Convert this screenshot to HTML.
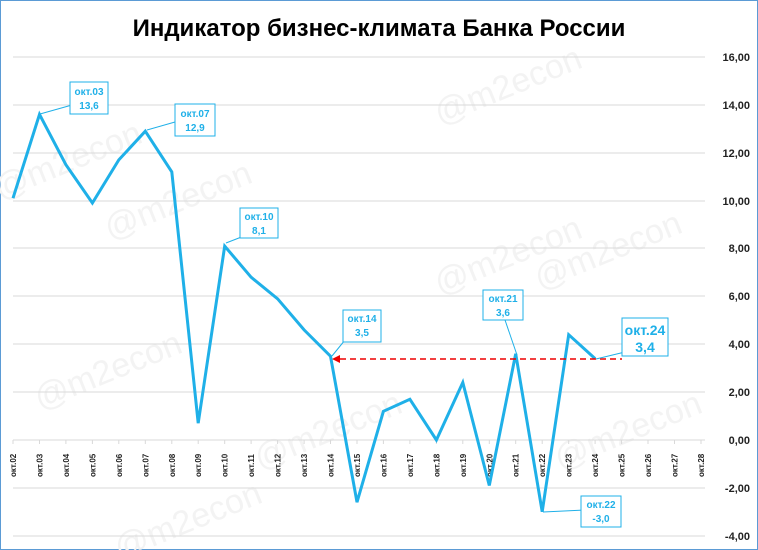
<!DOCTYPE html>
<html><head><meta charset="utf-8"><style>
body{margin:0;background:#fff}
svg{display:block;font-family:"Liberation Sans","DejaVu Sans",sans-serif}
</style></head><body>
<svg width="758" height="550" viewBox="0 0 758 550">
<rect x="0.5" y="0.5" width="757" height="549" fill="#fff" stroke="#5b9bd5" stroke-width="1"/>
<text x="379" y="36" text-anchor="middle" font-size="24" font-weight="bold" fill="#000">Индикатор бизнес-климата Банка России</text>
<g font-size="34" fill="#f3f3f3">
<text transform="translate(110,240) rotate(-22)">@m2econ</text>
<text transform="translate(440,125) rotate(-22)">@m2econ</text>
<text transform="translate(440,295) rotate(-22)">@m2econ</text>
<text transform="translate(540,290) rotate(-22)">@m2econ</text>
<text transform="translate(40,410) rotate(-22)">@m2econ</text>
<text transform="translate(260,470) rotate(-22)">@m2econ</text>
<text transform="translate(560,470) rotate(-22)">@m2econ</text>
<text transform="translate(0,200) rotate(-22)">@m2econ</text>
<text transform="translate(120,560) rotate(-22)">@m2econ</text>
</g>
<g stroke="#d9d9d9" stroke-width="1">
<line x1="13" x2="705" y1="57" y2="57"/><line x1="13" x2="705" y1="105" y2="105"/>
<line x1="13" x2="705" y1="153" y2="153"/><line x1="13" x2="705" y1="201" y2="201"/>
<line x1="13" x2="705" y1="248" y2="248"/><line x1="13" x2="705" y1="296" y2="296"/>
<line x1="13" x2="705" y1="344" y2="344"/><line x1="13" x2="705" y1="392" y2="392"/>
<line x1="13" x2="705" y1="440" y2="440"/><line x1="13" x2="705" y1="488" y2="488"/>
<line x1="13" x2="705" y1="536" y2="536"/>
</g>
<g font-size="11" font-weight="bold" fill="#222" text-anchor="end">
<text x="750" y="61">16,00</text><text x="750" y="109">14,00</text><text x="750" y="157">12,00</text>
<text x="750" y="205">10,00</text><text x="750" y="252">8,00</text><text x="750" y="300">6,00</text>
<text x="750" y="348">4,00</text><text x="750" y="396">2,00</text><text x="750" y="444">0,00</text>
<text x="750" y="492">-2,00</text><text x="750" y="540">-4,00</text>
</g>
<g stroke="#d9d9d9">
<path d="M13.0,440v4M39.5,440v4M65.9,440v4M92.4,440v4M118.8,440v4M145.3,440v4M171.8,440v4M198.2,440v4M224.7,440v4M251.1,440v4M277.6,440v4M304.1,440v4M330.5,440v4M357.0,440v4M383.4,440v4M409.9,440v4M436.4,440v4M462.8,440v4M489.3,440v4M515.7,440v4M542.2,440v4M568.7,440v4M595.1,440v4M621.6,440v4M648.0,440v4M674.5,440v4M701.0,440v4"/>
</g>
<g font-size="8" font-weight="bold" fill="#222">
<text transform="translate(16,477) rotate(-90)">окт.02</text>
<text transform="translate(42.5,477) rotate(-90)">окт.03</text>
<text transform="translate(68.9,477) rotate(-90)">окт.04</text>
<text transform="translate(95.4,477) rotate(-90)">окт.05</text>
<text transform="translate(121.8,477) rotate(-90)">окт.06</text>
<text transform="translate(148.3,477) rotate(-90)">окт.07</text>
<text transform="translate(174.8,477) rotate(-90)">окт.08</text>
<text transform="translate(201.2,477) rotate(-90)">окт.09</text>
<text transform="translate(227.7,477) rotate(-90)">окт.10</text>
<text transform="translate(254.1,477) rotate(-90)">окт.11</text>
<text transform="translate(280.6,477) rotate(-90)">окт.12</text>
<text transform="translate(307.1,477) rotate(-90)">окт.13</text>
<text transform="translate(333.5,477) rotate(-90)">окт.14</text>
<text transform="translate(360.0,477) rotate(-90)">окт.15</text>
<text transform="translate(386.4,477) rotate(-90)">окт.16</text>
<text transform="translate(412.9,477) rotate(-90)">окт.17</text>
<text transform="translate(439.4,477) rotate(-90)">окт.18</text>
<text transform="translate(465.8,477) rotate(-90)">окт.19</text>
<text transform="translate(492.3,477) rotate(-90)">окт.20</text>
<text transform="translate(518.7,477) rotate(-90)">окт.21</text>
<text transform="translate(545.2,477) rotate(-90)">окт.22</text>
<text transform="translate(571.7,477) rotate(-90)">окт.23</text>
<text transform="translate(598.1,477) rotate(-90)">окт.24</text>
<text transform="translate(624.6,477) rotate(-90)">окт.25</text>
<text transform="translate(651.0,477) rotate(-90)">окт.26</text>
<text transform="translate(677.5,477) rotate(-90)">окт.27</text>
<text transform="translate(704.0,477) rotate(-90)">окт.28</text>
</g>
<polyline fill="none" stroke="#1fb0e8" stroke-width="3" points="13.0,198.2 39.5,114.4 65.9,164.7 92.4,203.0 118.8,159.9 145.3,131.2 171.8,171.9 198.2,423.2 224.7,246.1 251.1,277.2 277.6,298.8 304.1,329.9 330.5,356.2 357.0,502.2 383.4,411.3 409.9,399.3 436.4,440.0 462.8,382.5 489.3,485.5 515.7,353.8 542.2,511.8 568.7,334.7 595.1,358.6"/>
<line x1="340" y1="359" x2="622" y2="359" stroke="#e00" stroke-width="1.5" stroke-dasharray="6,4"/>
<polygon points="332,359 340,355 340,363" fill="#e00"/>
<g stroke="#1fb0e8" stroke-width="1" fill="#fff">
<path d="M40,114 L72,105"/><rect x="70" y="82" width="38" height="32"/>
<path d="M147,130 L175,122"/><rect x="175" y="104" width="40" height="32"/>
<path d="M226,243 L244,236"/><rect x="240" y="208" width="38" height="30"/>
<path d="M332,356 L345,340"/><rect x="343" y="310" width="38" height="32"/>
<path d="M517,355 L505,320"/><rect x="483" y="290" width="40" height="30"/>
<path d="M543,512 L585,510"/><rect x="581" y="496" width="40" height="31"/>
<path d="M596,359 L625,352"/><rect x="622" y="318" width="46" height="38"/>
</g>
<g fill="#1fb0e8" font-weight="bold" text-anchor="middle" font-size="10">
<text x="89" y="95">окт.03</text><text x="89" y="109">13,6</text>
<text x="195" y="117">окт.07</text><text x="195" y="131">12,9</text>
<text x="259" y="220">окт.10</text><text x="259" y="234">8,1</text>
<text x="362" y="322">окт.14</text><text x="362" y="336">3,5</text>
<text x="503" y="302">окт.21</text><text x="503" y="316">3,6</text>
<text x="601" y="508">окт.22</text><text x="601" y="522">-3,0</text>
<text x="645" y="335" font-size="14">окт.24</text><text x="645" y="352" font-size="14">3,4</text>
</g>
</svg>
</body></html>
